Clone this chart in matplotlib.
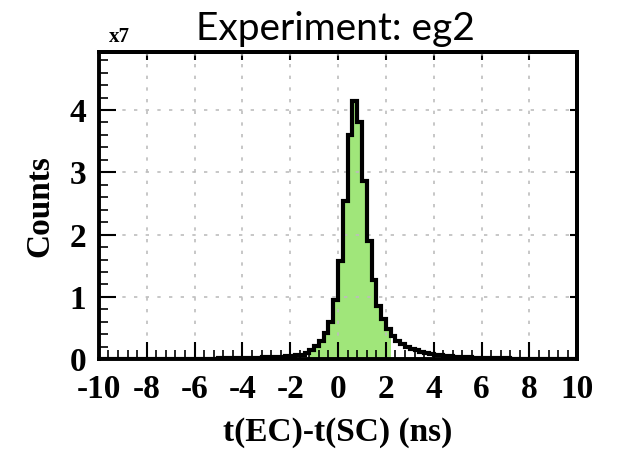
import numpy as np
import matplotlib
matplotlib.use("Agg")
import matplotlib.pyplot as plt

# histogram: 100 bins of 0.2 ns from -10 to 10, counts in units of 1e7
bin_lo, bin_hi, n_bins = -10.0, 10.0, 100
counts = [
    # -10 .. -6
    0.004, 0.004, 0.004, 0.004, 0.004, 0.005, 0.005, 0.005, 0.005, 0.005,
    0.006, 0.006, 0.006, 0.006, 0.007, 0.007, 0.007, 0.008, 0.008, 0.008,
    # -6 .. -2
    0.009, 0.009, 0.010, 0.010, 0.011, 0.012, 0.013, 0.014, 0.015, 0.017,
    0.019, 0.021, 0.023, 0.025, 0.028, 0.031, 0.034, 0.038, 0.042, 0.046,
    # -2 .. 2
    0.050, 0.060, 0.075, 0.100, 0.140, 0.210, 0.300, 0.420, 0.600, 0.950,
    1.580, 2.540, 3.600, 4.140, 3.810, 2.860, 1.900, 1.270, 0.850, 0.640,
    # 2 .. 6
    0.490, 0.380, 0.300, 0.240, 0.200, 0.170, 0.140, 0.120, 0.100, 0.085,
    0.072, 0.062, 0.054, 0.047, 0.042, 0.037, 0.033, 0.030, 0.027, 0.024,
    # 6 .. 10
    0.021, 0.019, 0.017, 0.015, 0.013, 0.012, 0.011, 0.010, 0.009, 0.008,
    0.008, 0.007, 0.007, 0.006, 0.006, 0.006, 0.005, 0.005, 0.005, 0.005,
]
# selection window drawn in green
cut_lo, cut_hi = -1.2, 2.2

x_ticks = [-10, -8, -6, -4, -2, 0, 2, 4, 6, 8, 10]
y_ticks = [0, 1, 2, 3, 4]

edges = np.linspace(bin_lo, bin_hi, n_bins + 1)
counts = np.array(counts)

serif = "Liberation Serif"

fig = plt.figure(figsize=(6.22, 4.49), dpi=100)
ax = fig.add_axes([0.159, 0.200, 0.769, 0.684])

# green filled part inside the cut window
i0 = int(round((cut_lo - bin_lo) / (edges[1] - edges[0])))
i1 = int(round((cut_hi - bin_lo) / (edges[1] - edges[0])))
ax.stairs(counts[i0:i1], edges[i0:i1 + 1], fill=True, color="#a0e67a",
          baseline=0, zorder=1)
# black outline of the whole histogram
ax.stairs(counts, edges, color="black", lw=3.0, baseline=None, zorder=2)

ax.set_xlim(-10, 10)
ax.set_ylim(0, 4.93)

ax.set_xticks(x_ticks)
ax.set_xticks(np.arange(-10, 10.01, 0.4), minor=True)
ax.set_yticks(y_ticks)
ax.set_yticks(np.arange(0, 4.93, 0.2), minor=True)
ax.set_xticklabels([str(v) for v in x_ticks])
ax.set_yticklabels([str(v) for v in y_ticks])

ax.tick_params(which="major", direction="in", length=12, width=1.5,
               labelsize=24)
ax.tick_params(axis="x", which="major", pad=11)
ax.tick_params(axis="y", which="major", pad=9)
ax.tick_params(which="minor", direction="in", length=6.5, width=1.2)
for lab in ax.get_xticklabels() + ax.get_yticklabels():
    lab.set_fontfamily(serif)
    lab.set_fontweight("bold")

# short major ticks on top and right
top = ax.secondary_xaxis("top")
top.set_xticks(x_ticks)
top.tick_params(direction="in", length=6, width=1.5, labeltop=False)
right = ax.secondary_yaxis("right")
right.set_yticks(y_ticks)
right.tick_params(direction="in", length=5, width=1.5, labelright=False)
for sp in list(ax.spines.values()) + [top.spines["top"], right.spines["right"]]:
    sp.set_linewidth(2.8)

ax.grid(True, which="major", color="#bdbdbd", linestyle=(0, (2, 5)), lw=1.2)

ax.set_xlabel("t(EC)-t(SC) (ns)", fontfamily=serif, fontweight="bold",
              fontsize=24, labelpad=8)
ax.set_ylabel("Counts", fontfamily=serif, fontweight="bold", fontsize=24,
              labelpad=10)
fig.text(0.175, 0.918, "x7", fontfamily=serif, fontweight="bold",
         fontsize=15, ha="left", va="center")
fig.text(0.540, 0.935, "Experiment: eg2", fontfamily="Lato",
         fontweight="normal", fontsize=28, ha="center", va="center")

fig.savefig("out.png", dpi=100)
